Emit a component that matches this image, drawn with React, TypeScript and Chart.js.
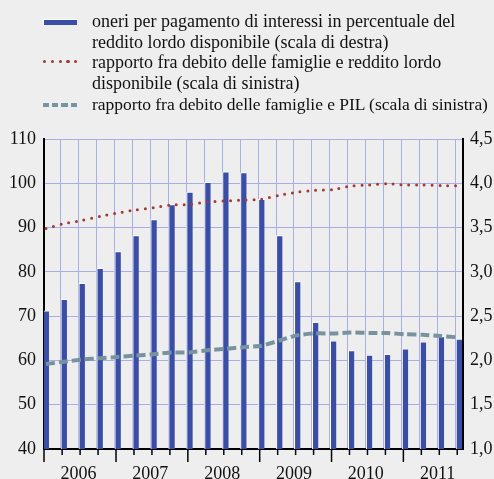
import React, { useEffect, useRef } from "react";
import { Chart, registerables } from "chart.js";
Chart.register(...registerables);

const years = ["2006", "2007", "2008", "2009", "2010", "2011"];
const quarters = [
  "2006T1", "2006T2", "2006T3", "2006T4",
  "2007T1", "2007T2", "2007T3", "2007T4",
  "2008T1", "2008T2", "2008T3", "2008T4",
  "2009T1", "2009T2", "2009T3", "2009T4",
  "2010T1", "2010T2", "2010T3", "2010T4",
  "2011T1", "2011T2", "2011T3", "2011T4",
];
// right scale
const interestBurden = [2.56, 2.69, 2.87, 3.04, 3.23, 3.41, 3.59, 3.76, 3.9, 4.01, 4.13, 4.12, 3.82, 3.41, 2.89, 2.43, 2.22, 2.11, 2.06, 2.07, 2.13, 2.21, 2.27, 2.24];
// left scale
const debtToIncome = [89.8, 90.9, 91.6, 92.5, 93.3, 94.0, 94.5, 95.1, 95.2, 95.8, 96.0, 96.2, 96.4, 97.3, 98.0, 98.4, 98.6, 99.4, 99.6, 99.9, 99.6, 99.6, 99.5, 99.4];
const debtToGdp = [59.2, 59.7, 60.2, 60.5, 60.8, 61.1, 61.4, 61.8, 61.8, 62.3, 62.6, 63.0, 63.3, 64.5, 65.7, 66.1, 66.1, 66.3, 66.2, 66.2, 65.9, 65.8, 65.5, 65.2];
const leftTicks = [40, 50, 60, 70, 80, 90, 100, 110];
const rightTicks = [1.0, 1.5, 2.0, 2.5, 3.0, 3.5, 4.0, 4.5];

const legendLines = [
  "oneri per pagamento di interessi in percentuale del",
  "reddito lordo disponibile (scala di destra)",
  "rapporto fra debito delle famiglie e reddito lordo",
  "disponibile (scala di sinistra)",
  "rapporto fra debito delle famiglie e PIL (scala di sinistra)",
];

const BLUE = "#3b4ea5";
const RED = "#a23b33";
const GRAY = "#7893a0";
const GRID = "#a9aee6";
const FONT = '"Liberation Serif", "Times New Roman", serif';

const OFF = 0.19;

const tickPlugin = {
  id: "quarterTicks",
  afterDraw(chart: any) {
    const x = chart.scales.x;
    const { ctx, chartArea } = chart;
    ctx.save();
    ctx.strokeStyle = "#000";
    ctx.lineWidth = 1.5;
    for (let k = 0; k < quarters.length; k++) {
      const px = k === 0 ? chartArea.left : x.getPixelForValue(k - 0.1);
      const len = k % 4 === 0 ? 13 : 6;
      ctx.beginPath();
      ctx.moveTo(px, chartArea.bottom);
      ctx.lineTo(px, chartArea.bottom + len);
      ctx.stroke();
    }
    ctx.restore();
  },
};

export default function App() {
  const ref = useRef<HTMLCanvasElement | null>(null);
  useEffect(() => {
    document.body.style.margin = "0";
    const chart = new Chart(ref.current as HTMLCanvasElement, {
      type: "bar",
      data: {
        datasets: [
          {
            type: "bar",
            label: legendLines[0],
            data: interestBurden.map((v, i) => ({ x: i, y: v })),
            backgroundColor: BLUE,
            borderColor: "#ffffff",
            borderWidth: { left: 1, top: 1, right: 0, bottom: 0 },
            borderSkipped: false,
            barThickness: 6,
            yAxisID: "y2",
            order: 2,
          } as any,
          {
            type: "line",
            label: legendLines[2],
            data: debtToIncome.map((v, i) => ({ x: i, y: v })),
            borderColor: RED,
            borderWidth: 3,
            borderDash: [0, 7.8],
            borderCapStyle: "round",
            pointRadius: 0,
            tension: 0.2,
            yAxisID: "y",
            order: 0,
          } as any,
          {
            type: "line",
            label: legendLines[4],
            data: debtToGdp.map((v, i) => ({ x: i, y: v })),
            borderColor: GRAY,
            borderWidth: 4,
            borderDash: [9, 4],
            pointRadius: 0,
            tension: 0.2,
            yAxisID: "y",
            order: 1,
          } as any,
        ],
      },
      options: {
        animation: false,
        responsive: false,
        maintainAspectRatio: false,
        layout: { padding: { top: 139, left: 0, right: 0, bottom: 0 } },
        plugins: { legend: { display: false }, tooltip: { enabled: false } },
        scales: {
          x: {
            type: "linear",
            offset: false,
            min: -0.11,
            max: 23.22,
            afterBuildTicks: (s: any) => {
              s.ticks = quarters.map((_, k) => ({ value: k - OFF })).filter((t) => t.value >= -0.11);
            },
            afterFit: (s: any) => {
              s.height = 30;
            },
            ticks: {
              autoSkip: false,
              maxRotation: 0,
              minRotation: 0,
              padding: 14,
              color: "#111",
              font: { family: FONT, size: 18 },
              callback: (v: any) => {
                const k = Math.round(Number(v) + OFF);
                return k % 4 === 2 ? years[(k - 2) / 4] : "";
              },
            },
            grid: { offset: false, color: GRID, lineWidth: 1, drawTicks: false },
            border: { display: true, color: "#000", width: 2 },
          },
          y: {
            type: "linear",
            position: "left",
            min: 40,
            max: 110,
            afterBuildTicks: (s: any) => {
              s.ticks = leftTicks.map((v) => ({ value: v }));
            },
            afterFit: (s: any) => {
              s.width = 44;
            },
            ticks: { padding: 8, color: "#111", font: { family: FONT, size: 18 } },
            grid: { color: GRID, lineWidth: 1, drawTicks: false },
            border: { display: true, color: "#000", width: 2 },
          },
          y2: {
            type: "linear",
            position: "right",
            min: 1.0,
            max: 4.5,
            afterBuildTicks: (s: any) => {
              s.ticks = rightTicks.map((v) => ({ value: v }));
            },
            afterFit: (s: any) => {
              s.width = 31;
            },
            ticks: {
              padding: 7,
              color: "#111",
              font: { family: FONT, size: 18 },
              callback: (v: any) => Number(v).toFixed(1).replace(".", ","),
            },
            grid: { drawOnChartArea: false, drawTicks: false },
            border: { display: true, color: "#000", width: 2 },
          },
        },
      },
      plugins: [tickPlugin],
    });
    return () => chart.destroy();
  }, []);

  const lineCenters = [21.7, 42.2, 62.8, 83.3, 104];
  return (
    <div
      style={{
        position: "absolute",
        left: 0,
        top: 0,
        width: 494,
        height: 479,
        background: "#eeeeee",
        fontFamily: FONT,
        overflow: "hidden",
      }}
    >
      <canvas ref={ref} width={494} height={479} style={{ position: "absolute", left: 0, top: 0, width: 494, height: 479 }} />
      {/* legend symbols */}
      <div style={{ position: "absolute", left: 43, top: 18.5, width: 33, height: 5.5, background: BLUE, borderTop: "1px solid #fff", borderLeft: "1px solid #fff" }} />
      {[44.7, 52.7, 60.3, 68, 75.7].map((x, i) => (
        <div key={"d" + i} style={{ position: "absolute", left: x - 1.6, top: 61.7 - 1.6, width: 3.2, height: 3.2, borderRadius: "50%", background: RED }} />
      ))}
      {[42.7, 52, 61.3, 70.7].map((x, i) => (
        <div key={"g" + i} style={{ position: "absolute", left: x, top: 102.7, width: 6.3, height: 4, background: GRAY }} />
      ))}
      {legendLines.map((t, i) => (
        <div
          key={"l" + i}
          style={{
            position: "absolute",
            left: 92,
            top: lineCenters[i] - 11.5,
            height: 22,
            lineHeight: "22px",
            fontSize: i === 4 ? 17.5 : 18,
            letterSpacing: i === 4 ? "-0.04px" : "0px",
            color: "#111",
            whiteSpace: "nowrap",
          }}
        >
          {t}
        </div>
      ))}
    </div>
  );
}
